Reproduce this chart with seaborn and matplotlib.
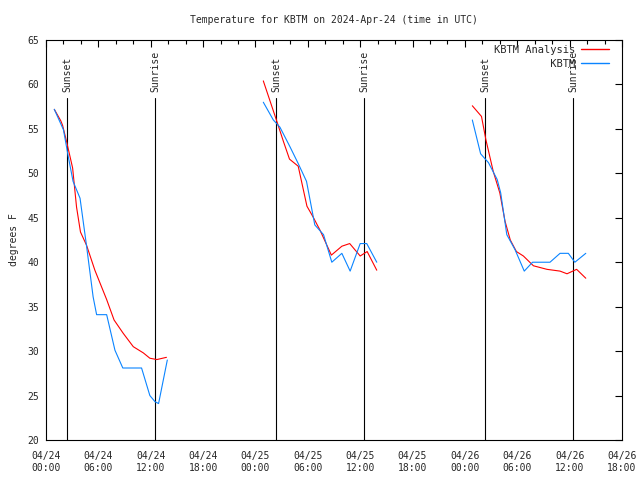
import matplotlib
matplotlib.use('Agg')
import matplotlib.pyplot as plt
import seaborn as sns
import pandas as pd
from matplotlib.ticker import MultipleLocator

# hours since 2024-04-24 00:00 UTC
analysis_hours = [0.95, 1.7, 1.9, 2.4, 3.05, 3.5, 3.95, 4.65, 5.6, 6.95, 7.8, 8.85, 10.0, 11.15, 11.9, 12.7, 13.8,
                  24.9, 26.4, 27.2, 27.9, 28.9, 29.9, 30.6, 31.4, 32.7, 33.9, 34.8, 36.0, 36.8, 37.9,
                  48.85, 49.9, 50.4, 51.25, 52.0, 52.6, 53.2, 53.9, 54.7, 55.85, 57.4, 58.9, 59.7, 60.8, 61.85]
analysis_temp = [57.2, 55.9, 55.4, 53.4, 50.6, 46.2, 43.4, 41.9, 39.1, 35.8, 33.5, 32.0, 30.5, 29.8, 29.2, 29.05, 29.3,
                 60.4, 56.0, 53.6, 51.6, 50.8, 46.3, 45.1, 43.6, 40.8, 41.8, 42.1, 40.7, 41.2, 39.1,
                 57.6, 56.4, 53.8, 50.2, 47.8, 44.6, 42.5, 41.2, 40.7, 39.6, 39.2, 39.0, 38.7, 39.2, 38.2]
analysis_seg = [1] * 17 + [2] * 14 + [3] * 15

obs_hours = [0.95, 2.0, 2.55, 3.1, 3.9, 4.65, 5.4, 5.8, 6.95, 7.9, 8.8, 10.95, 11.9, 12.5, 12.9, 13.9,
             24.9, 26.05, 26.8, 27.95, 28.9, 29.85, 30.8, 31.8, 32.75, 33.9, 34.85, 36.0, 36.75, 37.9,
             48.85, 49.8, 50.7, 51.7, 52.1, 52.8, 53.75, 54.8, 55.75, 57.75, 58.9, 59.85, 60.6, 61.85]
obs_temp = [57.2, 54.9, 51.9, 49.1, 47.2, 41.8, 36.1, 34.1, 34.1, 30.1, 28.1, 28.1, 25.0, 24.3, 24.1, 29.0,
            58.0, 56.0, 55.2, 53.0, 51.1, 49.1, 44.2, 43.1, 40.0, 41.0, 39.0, 42.1, 42.1, 40.0,
            56.0, 52.2, 51.2, 49.3, 47.8, 43.1, 41.4, 39.0, 40.0, 40.0, 41.0, 41.0, 40.0, 41.0]
obs_seg = [1] * 16 + [2] * 14 + [3] * 14

sun_hours = [2.4, 12.5, 26.35, 36.45, 50.3, 60.4]
sun_labels = ['Sunset', 'Sunrise', 'Sunset', 'Sunrise', 'Sunset', 'Sunrise']

tick_hours = [0, 6, 12, 18, 24, 30, 36, 42, 48, 54, 60, 66]
tick_labels = ['04/24\n00:00', '04/24\n06:00', '04/24\n12:00', '04/24\n18:00',
               '04/25\n00:00', '04/25\n06:00', '04/25\n12:00', '04/25\n18:00',
               '04/26\n00:00', '04/26\n06:00', '04/26\n12:00', '04/26\n18:00']

df = pd.concat([
    pd.DataFrame({'hours': analysis_hours, 'temp': analysis_temp, 'seg': analysis_seg,
                  'series': 'KBTM Analysis'}),
    pd.DataFrame({'hours': obs_hours, 'temp': obs_temp, 'seg': obs_seg,
                  'series': '         KBTM'}),
])

sns.set_style('white')
plt.rcParams['font.family'] = ['DejaVu Sans Mono']
plt.rcParams['font.size'] = 7

fig = plt.figure(figsize=(6.4, 4.8), dpi=100)
ax = fig.add_axes([46 / 640, 40 / 480, 576 / 640, 400 / 480])

# sunset / sunrise markers
for h, lab in zip(sun_hours, sun_labels):
    ax.plot([h, h], [20, 58.5], color='black', lw=0.8)
    ax.text(h, 59.1, lab, rotation=90, ha='center', va='bottom', fontsize=7)

sns.lineplot(data=df, x='hours', y='temp', hue='series', units='seg', estimator=None,
             palette={'KBTM Analysis': '#ff0000', '         KBTM': '#0a84ff'},
             lw=0.8, ax=ax, sort=False)

ax.set_xlim(0, 66)
ax.set_ylim(20, 65)
ax.set_xticks(tick_hours)
ax.set_xticklabels(tick_labels)
ax.xaxis.set_minor_locator(MultipleLocator(2))
ax.yaxis.set_major_locator(MultipleLocator(5))
ax.tick_params(which='both', direction='in', top=True, right=True, color='black', width=0.8)
ax.tick_params(which='major', length=5, pad=8)
ax.tick_params(which='minor', length=3)
ax.tick_params(axis='y', pad=5)
for s in ax.spines.values():
    s.set_color('black')
    s.set_linewidth(0.8)

ax.set_xlabel('')
ax.set_ylabel('degrees F', labelpad=6)
ax.set_title('Temperature for KBTM on 2024-Apr-24 (time in UTC)', pad=12, fontsize=7)

leg = ax.legend(loc='upper right', bbox_to_anchor=(0.977, 0.9875), frameon=False,
                markerfirst=False, borderaxespad=0, borderpad=0, handlelength=2.7,
                handletextpad=0.5, labelspacing=0.35, fontsize=7.5)
for line in leg.get_lines():
    line.set_linewidth(1.0)

fig.savefig('out.png', dpi=100)
